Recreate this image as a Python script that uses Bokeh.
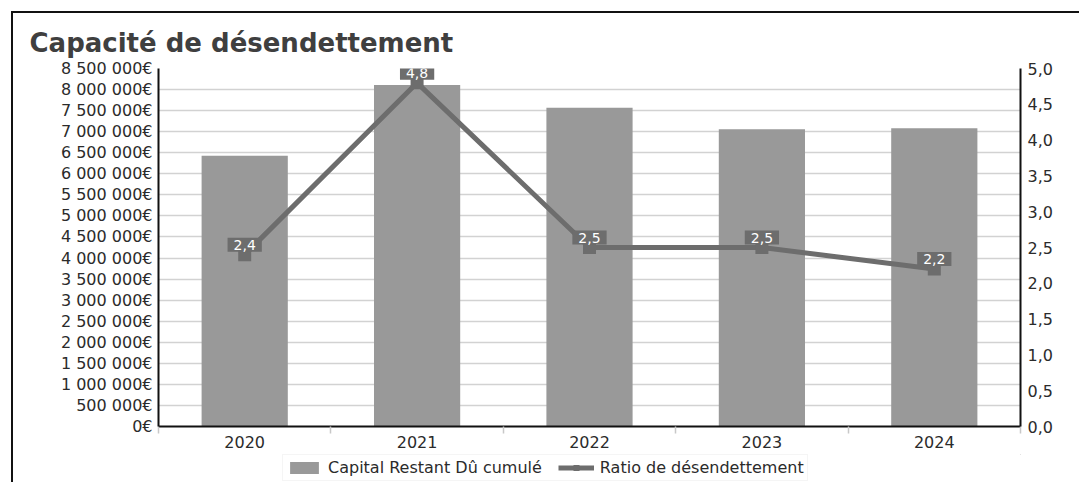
from bokeh.plotting import figure
from bokeh.layouts import column
from bokeh.models import (Range1d, LinearAxis, FixedTicker, CustomJSTickFormatter,
                          Legend, LegendItem, ColumnDataSource)
from bokeh.embed import file_html
from bokeh.resources import INLINE
from bokeh.core.properties import value

# ---- data ----
years = ["2020", "2021", "2022", "2023", "2024"]
capital = [6_430_000, 8_110_000, 7_570_000, 7_060_000, 7_080_000]
ratio = [2.4, 4.8, 2.5, 2.5, 2.2]
left_ticks = list(range(0, 8_500_001, 500_000))
right_ticks = [0.0, 0.5, 1.0, 1.5, 2.0, 2.5, 3.0, 3.5, 4.0, 4.5, 5.0]
title_text = "Capacité de désendettement"
bar_label = "Capital Restant Dû cumulé"
line_label = "Ratio de désendettement"

FONT = "DejaVu Sans"
BAR_C = "#999999"
LINE_C = "#6d6d6d"
TXT_C = "#2b2b2b"
W = 1066

n = len(years)
xs = [i + 0.5 for i in range(n)]
src = ColumnDataSource(dict(
    x=xs, capital=capital, ratio=ratio,
    lab=[f"{v:.1f}".replace(".", ",") for v in ratio],
))

p = figure(width=W, height=441, output_backend="svg", toolbar_location=None,
           x_range=Range1d(0, n), y_range=Range1d(0, max(left_ticks)),
           min_border_left=145, min_border_right=W - 1007, min_border_top=55, min_border_bottom=28)
p.outline_line_color = None
p.background_fill_color = "white"
p.border_fill_color = "white"

p.title.text = title_text
p.title.text_font = FONT
p.title.text_font_size = "26px"
p.title.text_font_style = "bold"
p.title.text_color = "#3f3f3f"
p.title.align = "left"
p.title.offset = -129
p.title.standoff = 22

p.extra_y_ranges = {"ratio": Range1d(0, max(right_ticks))}

# bars
bars = p.vbar(x="x", top="capital", width=0.5, source=src, fill_color=BAR_C, line_color=None)
# line + markers
ln = p.line(x="x", y="ratio", source=src, y_range_name="ratio", line_color=LINE_C, line_width=5)
mk = p.scatter(x="x", y="ratio", source=src, y_range_name="ratio", marker="square",
               size=13, fill_color=LINE_C, line_color=None)
# value labels
p.text(x="x", y="ratio", text="lab", source=src, y_range_name="ratio", y_offset=-10,
       text_align="center", text_baseline="middle", text_color="white",
       text_font=value(FONT), text_font_size="14px",
       background_fill_color=LINE_C, padding=(6, 2))

# axes
xa = p.xaxis[0]
xa.ticker = FixedTicker(ticks=xs, minor_ticks=list(range(0, n + 1)))
xa.formatter = CustomJSTickFormatter(args=dict(years=years),
                                     code="return String(years[Math.round(tick - 0.5)]);")
xa.major_tick_out = 0
xa.major_tick_in = 0
xa.minor_tick_out = 7
xa.minor_tick_in = 0
xa.minor_tick_line_color = "#c8c8c8"
xa.minor_tick_line_width = 1.5
xa.axis_line_color = "#111111"
xa.axis_line_width = 2
xa.major_label_text_font = FONT
xa.major_label_text_font_size = "16px"
xa.major_label_text_color = TXT_C
xa.major_label_standoff = 2

ya = p.yaxis[0]
ya.ticker = FixedTicker(ticks=left_ticks)
ya.formatter = CustomJSTickFormatter(
    code="return String(Math.round(tick)).replace(/\\B(?=(\\d{3})+(?!\\d))/g, ' ') + '€';")
ya.major_tick_out = 0
ya.major_tick_in = 0
ya.minor_tick_out = 0
ya.minor_tick_in = 0
ya.axis_line_color = "#111111"
ya.axis_line_width = 2
ya.major_label_text_font = FONT
ya.major_label_text_font_size = "16px"
ya.major_label_text_color = TXT_C
ya.major_label_standoff = 6

ra = LinearAxis(y_range_name="ratio", ticker=FixedTicker(ticks=right_ticks),
                formatter=CustomJSTickFormatter(code="return tick.toFixed(1).replace('.', ',');"))
ra.major_tick_out = 0
ra.major_tick_in = 0
ra.minor_tick_out = 0
ra.minor_tick_in = 0
ra.axis_line_color = "#111111"
ra.axis_line_width = 2
ra.major_label_text_font = FONT
ra.major_label_text_font_size = "16px"
ra.major_label_text_color = TXT_C
ra.major_label_standoff = 7
p.add_layout(ra, "right")

p.xgrid.visible = False
p.ygrid.grid_line_color = "#d2d2d2"
p.ygrid.grid_line_width = 1.5

# legend strip (separate small figure below the chart; its glyphs fall outside its ranges)
lp = figure(width=W, height=28, output_backend="svg", toolbar_location=None,
            x_range=Range1d(-3, -2), y_range=Range1d(-3, -2),
            x_axis_location=None, y_axis_location=None,
            min_border_left=0, min_border_right=0, min_border_top=0, min_border_bottom=0)
lp.outline_line_color = None
lp.grid.visible = False
lp.border_fill_color = "white"
lp.background_fill_color = "white"
lb = lp.vbar(x="x", top="capital", width=0.5, source=src, fill_color=BAR_C, line_color=None)
ll = lp.line(x="x", y="ratio", source=src, line_color=LINE_C, line_width=5)
lm = lp.scatter(x="x", y="ratio", source=src, marker="square", size=13,
                fill_color=LINE_C, line_color=None)

legend = Legend(items=[LegendItem(label=bar_label, renderers=[lb]),
                       LegendItem(label=line_label, renderers=[ll, lm])],
                orientation="horizontal", location=(124, 1))
legend.label_text_font = FONT
legend.label_text_font_size = "16px"
legend.label_text_color = TXT_C
legend.glyph_width = 36
legend.glyph_height = 15
legend.label_standoff = 6
legend.spacing = 16
legend.padding = 3
legend.margin = 0
legend.border_line_color = "#ebebeb"
legend.background_fill_color = "white"
lp.add_layout(legend, "center")

layout = column(p, lp, spacing=0,
                styles={"border-top": "2px solid #111", "border-left": "2px solid #111",
                        "margin-top": "11px", "margin-left": "11px"})

open("out.html", "w").write(file_html(layout, INLINE))
